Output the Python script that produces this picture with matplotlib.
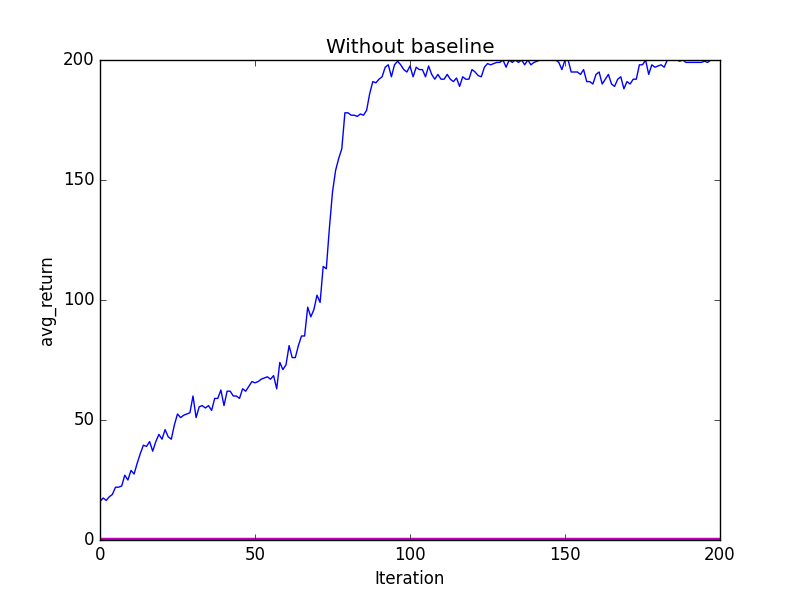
import numpy as np
import matplotlib
matplotlib.use('Agg')
import matplotlib.pyplot as plt

plt.style.use('classic')

avg_return = [
    16, 17.5, 16.5, 18, 19, 22, 22, 22.5, 27, 25,
    29, 27.5, 32, 36, 39.5, 39, 41, 37, 41, 44,
    42, 46, 43, 42, 48, 52.5, 51, 52, 52.5, 53,
    60, 51, 55.5, 56, 55, 56, 54, 59, 59, 62.5,
    56, 62, 62, 60, 60, 59, 63, 62, 64, 66,
    65.5, 66, 67, 67.5, 68, 67, 68.5, 63, 74, 71,
    73, 81, 76, 76, 81, 85, 85, 97, 93, 96,
    102, 99, 114, 113, 130, 145, 154, 159, 163, 178,
    178, 177, 177, 176.5, 177.5, 177, 179, 186, 191, 190.5,
    192, 193, 197, 198, 193, 198, 199.5, 198, 196, 195,
    197.5, 193, 197, 196, 196, 193, 197.5, 194, 192, 194,
    192, 192, 194, 192, 191, 192.5, 189, 193, 192, 192,
    196, 195, 193.5, 193, 197, 198.5, 198, 198.5, 199, 199,
    200, 197, 200, 199, 200, 199, 200, 198, 200, 198,
    199, 199.5, 200, 200, 200, 200, 200, 200, 199, 196,
    200, 200, 195, 195, 195, 194, 196, 191, 191, 190,
    194, 195, 190, 192, 194, 190, 189, 192, 193, 188,
    191, 190, 192, 192, 198, 198, 200, 194, 198, 197,
    197.5, 198, 197, 200, 200, 200, 200, 199.5, 200, 199,
    199, 199, 199, 199, 199, 199.5, 199, 200, 200, 200,
    200,
]
iteration = np.arange(len(avg_return))
baseline_line = [0.5] * len(avg_return)

fig, ax = plt.subplots(figsize=(8, 6), dpi=100)
fig.patch.set_facecolor('white')
ax.plot(iteration, avg_return, color='b', lw=1)
ax.plot(iteration, baseline_line, color='m', lw=2.5)
ax.set_xlim(0, 200)
ax.set_ylim(0, 200)
ax.set_xticks([0, 50, 100, 150, 200])
ax.set_yticks([0, 50, 100, 150, 200])
ax.set_xlabel('Iteration')
ax.set_ylabel('avg_return')
ax.set_title('Without baseline')
fig.savefig('out.png', dpi=100, facecolor='white')
